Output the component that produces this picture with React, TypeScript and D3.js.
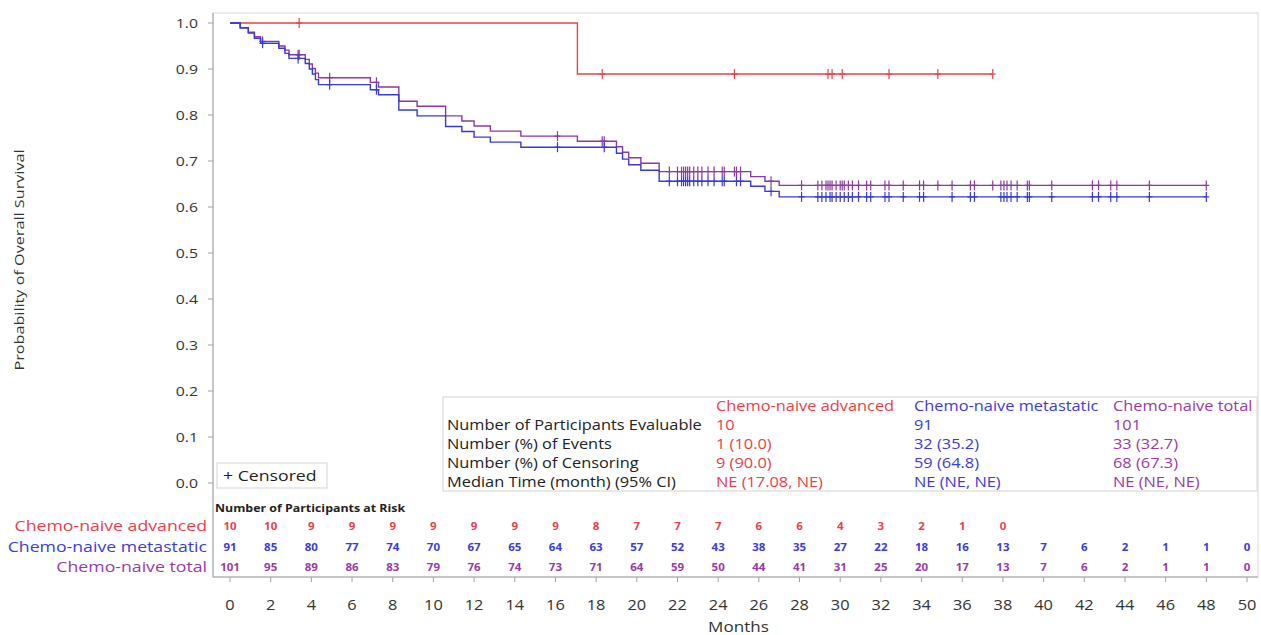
import React from "react";
import * as d3 from "d3";

// ---------- data ----------
const xTickValues = [0, 2, 4, 6, 8, 10, 12, 14, 16, 18, 20, 22, 24, 26, 28, 30, 32, 34, 36, 38, 40, 42, 44, 46, 48, 50];
const yTickValues = [0, 0.1, 0.2, 0.3, 0.4, 0.5, 0.6, 0.7, 0.8, 0.9, 1.0];

const groupNames = ["Chemo-naive advanced", "Chemo-naive metastatic", "Chemo-naive total"];
const groupColors = ["#e8414b", "#3c3cd8", "#9a3aa8"];
const lineColors = ["#e8414b", "#3a3ad2", "#8a3aa0"];

// Kaplan-Meier steps [month, survival]
const advancedSteps: [number, number][] = [[0, 1.0], [17.08, 0.889]];
const advancedEnd = 37.5;
const advancedCensors = [3.4, 18.3, 24.8, 29.4, 29.6, 30.1, 32.4, 34.8, 37.5];

const metastaticSteps: [number, number][] = [
  [0, 1.0], [0.5, 0.989], [0.9, 0.978], [1.2, 0.967], [1.5, 0.956], [2.4, 0.945], [2.7, 0.934], [2.9, 0.923],
  [3.7, 0.912], [3.9, 0.9], [4.05, 0.889], [4.2, 0.877], [4.35, 0.866], [6.9, 0.855], [7.3, 0.844],
  [8.3, 0.811], [9.2, 0.798], [10.6, 0.775], [11.4, 0.764], [12.0, 0.752], [12.8, 0.741], [14.3, 0.73],
  [19.0, 0.717], [19.3, 0.704], [19.6, 0.692], [20.2, 0.68], [21.1, 0.656], [25.6, 0.645], [26.3, 0.634], [27.0, 0.622],
];
const metastaticEnd = 48.0;
const metastaticCensors = [
  1.6, 3.35, 4.9, 7.2, 16.1, 18.4, 21.6, 22.0, 22.2, 22.3, 22.4, 22.5, 22.6, 22.8, 23.0, 23.2, 23.5, 23.8,
  24.2, 24.3, 24.9, 25.1, 26.6, 28.1, 28.9, 29.1, 29.3, 29.5, 29.6, 29.8, 30.0, 30.2, 30.4, 30.6, 30.9, 31.3, 31.5,
  32.2, 32.4, 33.1, 33.9, 34.1, 35.5, 36.4, 36.6, 37.9, 38.05, 38.2, 38.4, 38.7, 39.2, 39.3, 40.4,
  42.4, 42.7, 43.3, 43.6, 45.2, 48.0,
];

const totalSteps: [number, number][] = [
  [0, 1.0], [0.5, 0.99], [0.9, 0.98], [1.2, 0.97], [1.5, 0.96], [2.4, 0.95], [2.7, 0.941], [2.9, 0.931],
  [3.7, 0.921], [3.9, 0.911], [4.05, 0.901], [4.2, 0.891], [4.35, 0.881], [6.9, 0.871], [7.3, 0.861],
  [8.3, 0.83], [9.2, 0.819], [10.6, 0.798], [11.4, 0.787], [12.0, 0.776], [12.8, 0.765], [14.3, 0.754],
  [17.08, 0.743], [19.0, 0.731], [19.3, 0.719], [19.6, 0.707], [20.2, 0.695], [21.1, 0.677], [25.6, 0.666],
  [26.3, 0.656], [27.0, 0.647],
];
const totalEnd = 48.0;
const totalCensors = [
  1.6, 3.35, 3.4, 4.9, 7.2, 16.1, 18.3, 18.4, 21.6, 22.0, 22.2, 22.3, 22.4, 22.5, 22.6, 22.8, 23.0, 23.2, 23.5, 23.8,
  24.2, 24.3, 24.8, 24.9, 25.1, 26.6, 28.1, 28.9, 29.1, 29.3, 29.4, 29.5, 29.6, 29.8, 30.0, 30.1, 30.2, 30.4, 30.6,
  30.9, 31.3, 31.5, 32.2, 32.4, 33.1, 33.9, 34.1, 34.8, 35.5, 36.4, 36.6, 37.5, 37.9, 38.05, 38.2, 38.4, 38.7,
  39.2, 39.3, 40.4, 42.4, 42.7, 43.3, 43.6, 45.2, 48.0,
];

// at-risk table (every 2 months)
const riskAdvanced = [10, 10, 9, 9, 9, 9, 9, 9, 9, 8, 7, 7, 7, 6, 6, 4, 3, 2, 1, 0];
const riskMetastatic = [91, 85, 80, 77, 74, 70, 67, 65, 64, 63, 57, 52, 43, 38, 35, 27, 22, 18, 16, 13, 7, 6, 2, 1, 1, 0];
const riskTotal = [101, 95, 89, 86, 83, 79, 76, 74, 73, 71, 64, 59, 50, 44, 41, 31, 25, 20, 17, 13, 7, 6, 2, 1, 1, 0];

// summary statistics
const statLabels = [
  "Number of Participants Evaluable",
  "Number (%) of Events",
  "Number (%) of Censoring",
  "Median Time (month) (95% CI)",
];
const statAdvanced = ["10", "1 (10.0)", "9 (90.0)", "NE (17.08, NE)"];
const statMetastatic = ["91", "32 (35.2)", "59 (64.8)", "NE (NE, NE)"];
const statTotal = ["101", "33 (32.7)", "68 (67.3)", "NE (NE, NE)"];

const FONT = "'Open Sans', 'DejaVu Sans', sans-serif";
const SX = 1.17; // horizontal stretch of the reference text

type TProps = {
  x: number;
  y: number;
  size: number;
  fill?: string;
  anchor?: "start" | "middle" | "end";
  bold?: boolean;
  rotate?: boolean;
  sx?: number;
  children: React.ReactNode;
};

function T({ x, y, size, fill = "#333", anchor = "start", bold = false, rotate = false, sx = SX, children }: TProps) {
  const tf = rotate
    ? `translate(${x},${y}) rotate(-90) scale(${sx},1)`
    : `translate(${x},${y}) scale(${sx},1)`;
  return (
    <text
      transform={tf}
      dy="0.35em"
      textAnchor={anchor}
      fontSize={size}
      fontWeight={bold ? "bold" : "normal"}
      fill={fill}
    >
      {children}
    </text>
  );
}

export default function App() {
  const x = d3.scaleLinear().domain([0, 50]).range([230, 1247]);
  const y = d3.scaleLinear().domain([0, 1]).range([483, 23]);

  const series = [
    { steps: advancedSteps, end: advancedEnd, censors: advancedCensors, color: lineColors[0] },
    { steps: totalSteps, end: totalEnd, censors: totalCensors, color: lineColors[2] },
    { steps: metastaticSteps, end: metastaticEnd, censors: metastaticCensors, color: lineColors[1] },
  ];

  const line = d3
    .line<[number, number]>()
    .x((d) => x(d[0]))
    .y((d) => y(d[1]))
    .curve(d3.curveStepAfter);

  const survAt = (steps: [number, number][], t: number) => {
    const i = d3.bisector((d: [number, number]) => d[0]).right(steps, t) - 1;
    return steps[Math.max(0, i)][1];
  };

  const frame = { left: 213, top: 13, right: 1258, bottom: 577 };
  const riskRows = [riskAdvanced, riskMetastatic, riskTotal];
  const riskY = [526, 547, 567];
  const statCols = [statAdvanced, statMetastatic, statTotal];
  const statColX = [716, 914, 1113];
  const statRowY = [425, 444, 463, 482];

  return (
    <svg
      width={1261}
      height={635}
      style={{ position: "absolute", left: 0, top: 0, background: "#fff" }}
      fontFamily={FONT}
    >
      <rect x={0} y={0} width={1261} height={635} fill="#fff" />
      {/* plot frame */}
      <rect
        x={frame.left}
        y={frame.top}
        width={frame.right - frame.left}
        height={frame.bottom - frame.top}
        fill="none"
        stroke="#d8d8d8"
        strokeWidth={1}
      />
      <line x1={frame.left} x2={frame.left} y1={frame.top} y2={frame.bottom} stroke="#a0a0a0" />
      <line x1={frame.left} x2={frame.right} y1={frame.bottom} y2={frame.bottom} stroke="#a0a0a0" />

      {/* y axis */}
      {yTickValues.map((v) => (
        <g key={"y" + v}>
          <line x1={frame.left - 5} x2={frame.left} y1={y(v)} y2={y(v)} stroke="#a0a0a0" />
          <T x={frame.left - 15} y={y(v)} size={13.5} anchor="end">
            {v.toFixed(1)}
          </T>
        </g>
      ))}
      <T x={19} y={260} size={13.5} anchor="middle" rotate sx={1.2}>
        Probability of Overall Survival
      </T>

      {/* x axis */}
      {xTickValues.map((v) => (
        <g key={"x" + v}>
          <line x1={x(v)} x2={x(v)} y1={frame.bottom} y2={frame.bottom + 5} stroke="#a0a0a0" />
          <T x={x(v)} y={605} size={14} anchor="middle">
            {v}
          </T>
        </g>
      ))}
      <T x={x(25)} y={627} size={14} anchor="middle" sx={1.22}>
        Months
      </T>

      {/* curves */}
      {series.map((s, i) => {
        const pts: [number, number][] = [...s.steps, [s.end, s.steps[s.steps.length - 1][1]]];
        return (
          <g key={"s" + i}>
            <path d={line(pts) || ""} fill="none" stroke={s.color} strokeWidth={1.4} />
            {s.censors.map((c, j) => {
              const cx = x(c);
              const cy = y(survAt(s.steps, c));
              return (
                <g key={j} stroke={s.color} strokeWidth={1.2}>
                  <line x1={cx} x2={cx} y1={cy - 5} y2={cy + 5} />
                  <line x1={cx - 3} x2={cx + 3} y1={cy} y2={cy} />
                </g>
              );
            })}
          </g>
        );
      })}

      {/* censored legend */}
      <rect x={217} y={463} width={110} height={25} fill="#fff" stroke="#d4d4d4" />
      <T x={223} y={476} size={14.5} fill="#222" sx={1.22}>
        + Censored
      </T>

      {/* statistics box */}
      <rect x={443} y={397} width={814} height={94} fill="#fff" stroke="#d4d4d4" />
      {groupNames.map((g, i) => (
        <T key={"h" + i} x={statColX[i]} y={406} size={14} fill={groupColors[i]}>
          {g}
        </T>
      ))}
      {statLabels.map((l, r) => (
        <T key={"l" + r} x={447} y={statRowY[r]} size={14} fill="#222">
          {l}
        </T>
      ))}
      {statCols.map((col, i) =>
        col.map((v, r) => (
          <T key={"v" + i + r} x={statColX[i]} y={statRowY[r]} size={14} fill={groupColors[i]}>
            {v}
          </T>
        ))
      )}

      {/* at-risk table */}
      <T x={215} y={508} size={10.5} bold fill="#222" sx={1.18}>
        Number of Participants at Risk
      </T>
      {groupNames.map((g, i) => (
        <T key={"rl" + i} x={207} y={riskY[i]} size={15} anchor="end" fill={groupColors[i]} sx={1.18}>
          {g}
        </T>
      ))}
      {riskRows.map((row, i) =>
        row.map((v, j) => (
          <T
            key={"r" + i + "-" + j}
            x={x(xTickValues[j])}
            y={riskY[i]}
            size={10}
            bold
            anchor="middle"
            fill={groupColors[i]}
            sx={1.15}
          >
            {v}
          </T>
        ))
      )}
    </svg>
  );
}
